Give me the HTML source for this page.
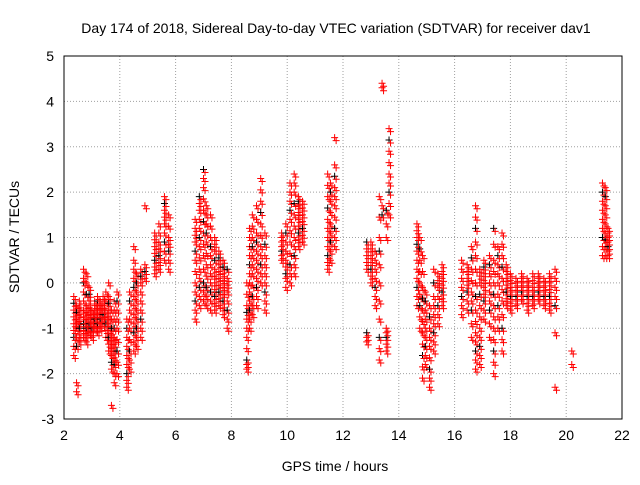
<!DOCTYPE html>
<html><head><meta charset="utf-8"><style>
body{margin:0;background:#fff}
svg text{font-family:"Liberation Sans",sans-serif;font-size:14px;fill:#000}
</style></head><body>
<svg id="chart" width="640" height="480" xmlns="http://www.w3.org/2000/svg">
<rect width="640" height="480" fill="#fff"/>
<text x="336" y="33" text-anchor="middle">Day 174 of 2018, Sidereal Day-to-day VTEC variation (SDTVAR) for receiver dav1</text>
<text x="335" y="471" text-anchor="middle">GPS time / hours</text>
<text transform="translate(19,237) rotate(-90)" text-anchor="middle">SDTVAR / TECUs</text>
<g id="grid"></g><g id="ticks"></g><g id="marks"></g>
<rect x="64" y="56" width="558" height="363" fill="none" stroke="#000" stroke-width="1"/>
</svg>
<script>
const xTicks=[2,4,6,8,10,12,14,16,18,20,22];
const yTicks=[-3,-2,-1,0,1,2,3,4,5];
const streakTimes=[2.35,2.45,2.55,2.7,2.8,2.9,3.0,3.1,3.2,3.3,3.4,3.5,3.6,3.7,3.8,3.9,
4.25,4.35,4.5,4.6,4.75,4.9,5.25,5.4,5.6,5.75,
6.7,6.85,7.0,7.1,7.25,7.4,7.55,7.7,7.85,
8.55,8.65,8.75,8.9,9.05,9.2,9.8,9.95,10.1,10.25,10.4,10.55,
11.45,11.55,11.7,12.85,13.0,13.15,13.3,13.4,13.55,13.65,
14.65,14.75,14.85,14.95,15.1,15.25,15.4,15.55,
16.25,16.45,16.6,16.75,16.9,17.05,17.25,17.4,17.55,17.7,17.85,18.0,18.2,18.4,18.6,18.8,19.0,19.2,19.4,19.6,
20.2,21.3,21.4,21.5];
const streakValues=[
[-1.6,-1.4,-1.2,-1.05,-0.9,-0.75,-0.6,-0.45,-0.3],[-2.4,-2.2,-1.4,-1.2,-1.0,-0.9,-0.8,-0.65,-0.5],[-1.3,-1.15,-1.0,-0.85,-0.7,-0.55,-0.4],[-1.2,-1.05,-0.9,-0.75,-0.6,-0.4,-0.2,0.0,0.1,0.3],[-1.3,-1.15,-1.0,-0.9,-0.8,-0.65,-0.5,-0.25,0.0,0.2],[-1.1,-1.0,-0.9,-0.8,-0.7,-0.55,-0.4,-0.25,-0.1],[-1.2,-1.1,-1.0,-0.9,-0.8,-0.7,-0.6],[-1.0,-0.9,-0.8,-0.7,-0.6,-0.5,-0.4],[-1.1,-1.0,-0.9,-0.8,-0.7,-0.6,-0.5,-0.4,-0.3],[-1.0,-0.9,-0.8,-0.7,-0.6,-0.5,-0.4],[-0.9,-0.8,-0.7,-0.6,-0.5,-0.4,-0.3],[-1.2,-1.05,-0.9,-0.75,-0.6,-0.4,-0.2],[-1.5,-1.35,-1.2,-1.05,-0.9,-0.75,-0.6,-0.45,-0.3,0.0],[-2.7,-1.9,-1.75,-1.6,-1.45,-1.3,-1.15,-1.0,-0.8,-0.6],[-2.2,-2.0,-1.8,-1.65,-1.5,-1.35,-1.2,-1.0,-0.8,-0.6,-0.4],[-2.0,-1.75,-1.5,-1.25,-1.0,-0.8,-0.6,-0.4,-0.2],
[-2.3,-2.15,-2.0,-1.8,-1.6,-1.4,-1.2,-1.0,-0.8],[-1.9,-1.7,-1.5,-1.25,-1.0,-0.8,-0.6,-0.4,-0.2],[-1.5,-1.3,-1.1,-0.9,-0.7,-0.5,-0.3,-0.1,0.1,0.3,0.5,0.8],[-1.4,-1.2,-1.0,-0.8,-0.6,-0.4,-0.2,0.0,0.2],[-1.2,-1.0,-0.8,-0.6,-0.4,-0.2,0.0,0.15,0.3],[1.7,0.4,0.25,0.1],[0.2,0.35,0.5,0.65,0.8,0.95,1.1],[0.3,0.45,0.6,0.75,0.9,1.1,1.3],[0.5,0.7,0.9,1.1,1.3,1.45,1.6,1.75,1.9],[0.3,0.5,0.7,0.85,1.0,1.25,1.5],
[-0.8,-0.6,-0.4,-0.2,0.0,0.25,0.5,0.7,0.9,1.05,1.2,1.4],[-0.5,-0.3,-0.1,0.1,0.3,0.55,0.8,1.0,1.2,1.4,1.6,1.75,1.9],[-0.4,-0.2,0.0,0.3,0.6,0.85,1.1,1.35,1.6,1.85,2.1,2.3,2.5],[-0.5,-0.3,-0.1,0.15,0.4,0.65,0.9,1.1,1.3,1.5,1.7],[-0.6,-0.4,-0.2,0.0,0.2,0.4,0.6,0.8,1.0,1.25,1.5],[-0.6,-0.45,-0.3,-0.15,0.0,0.15,0.3,0.5,0.7,0.85,1.0],[-0.5,-0.35,-0.2,-0.05,0.1,0.25,0.4,0.55,0.7],[-0.7,-0.55,-0.4,-0.25,-0.1,0.05,0.2,0.35,0.5],[-1.0,-0.8,-0.6,-0.4,-0.2,-0.05,0.1,0.3],
[-1.9,-1.8,-1.7,-1.45,-1.2,-1.0,-0.8,-0.65,-0.5,-0.25,0.0],[-1.0,-0.8,-0.6,-0.4,-0.2,0.0,0.2,0.4,0.6,0.8,1.0,1.2],[-0.7,-0.5,-0.3,-0.05,0.2,0.4,0.6,0.8,1.0,1.25,1.5],[-0.5,-0.3,-0.1,0.1,0.3,0.5,0.7,0.9,1.1,1.4,1.7],[0.0,0.2,0.4,0.6,0.8,1.05,1.3,1.55,1.8,2.05,2.3],[-0.6,-0.4,-0.2,0.0,0.2,0.4,0.6,0.85,1.1],[0.5,0.6,0.7,0.8,0.9,1.0,1.1],[-0.1,0.1,0.2,0.35,0.5,0.7,0.9,1.1,1.3],[0.0,0.2,0.4,0.65,0.9,1.15,1.4,1.6,1.8,2.0,2.2],[0.2,0.4,0.6,0.8,1.0,1.25,1.5,1.75,2.0,2.2,2.4],[0.8,0.95,1.1,1.25,1.4,1.55,1.7,1.8,1.9],[0.9,1.05,1.2,1.35,1.5,1.65,1.8],
[0.3,0.45,0.6,0.8,1.0,1.2,1.4,1.65,1.9,2.15,2.4],[0.5,0.7,0.9,1.1,1.3,1.55,1.8,2.0,2.2],[0.8,1.0,1.2,1.45,1.7,1.9,2.1,2.35,2.6,3.2],[-1.3,-1.2,-1.1,0.3,0.45,0.6,0.75,0.9],[0.0,0.15,0.3,0.45,0.6,0.75,0.9],[-0.5,-0.3,-0.1,0.1,0.3,0.5,0.7],[-1.7,-1.45,-1.2,-0.8,-0.4,0.0,0.4,0.7,1.0,1.45,1.9],[4.3,4.4,1.5,1.7],[-1.5,-1.35,-1.2,-1.1,-1.0,1.0,1.3,1.6],[1.5,1.75,2.0,2.2,2.4,2.65,2.9,3.15,3.4],
[-0.5,-0.3,-0.1,0.1,0.3,0.5,0.7,0.85,1.0,1.15,1.3],[-1.0,-0.75,-0.5,-0.25,0.0,0.25,0.5,0.75,1.0],[-2.1,-1.85,-1.6,-1.35,-1.1,-0.85,-0.6,-0.35,-0.1,0.25,0.6],[-1.8,-1.6,-1.4,-1.2,-1.0,-0.8,-0.6,-0.4,-0.2],[-2.3,-2.1,-1.9,-1.65,-1.4,-1.2,-1.0,-0.75,-0.5],[-1.5,-1.3,-1.1,-0.9,-0.7,-0.5,-0.3,0.0,0.3],[-0.9,-0.7,-0.5,-0.3,-0.1,0.05,0.2],[-0.5,-0.35,-0.2,-0.05,0.1,0.25,0.4],
[-0.7,-0.5,-0.3,-0.1,0.1,0.3,0.5],[-0.6,-0.4,-0.2,-0.05,0.1,0.25,0.4],[-1.2,-0.9,-0.6,-0.4,-0.2,0.05,0.3,0.55,0.8],[-1.9,-1.7,-1.5,-1.3,-1.1,-0.85,-0.6,-0.3,0.0,0.3,0.6,0.9,1.2,1.45,1.7],[-1.8,-1.6,-1.4,-1.2,-1.0,-0.75,-0.5,-0.25,0.0,0.15,0.3],[-0.8,-0.6,-0.4,-0.25,-0.1,0.05,0.2,0.35,0.5],[-1.2,-0.9,-0.6,-0.4,-0.2,0.0,0.2,0.4,0.6],[-2.0,-1.75,-1.5,-1.25,-1.0,-0.75,-0.5,-0.25,0.0,0.25,0.5,0.85,1.2],[-1.0,-0.75,-0.5,-0.25,0.0,0.2,0.4,0.6,0.8],[-1.5,-1.25,-1.0,-0.7,-0.4,-0.15,0.1,0.35,0.6,0.85,1.1],[-0.5,-0.35,-0.2,-0.05,0.1,0.25,0.4],[-0.6,-0.45,-0.3,-0.2,-0.1,0.05,0.2],[-0.5,-0.4,-0.3,-0.2,-0.1,0.0,0.1],[-0.4,-0.3,-0.2,-0.1,0.0,0.1,0.2],[-0.6,-0.45,-0.3,-0.2,-0.1,0.0,0.1],[-0.5,-0.4,-0.3,-0.2,-0.1,0.05,0.2],[-0.4,-0.3,-0.2,-0.1,0.0,0.1,0.2],[-0.5,-0.4,-0.3,-0.2,-0.1,0.0,0.1],[-0.6,-0.45,-0.3,-0.15,0.0,0.1,0.2],[-2.3,-1.1,-0.5,-0.3,-0.1,0.1,0.3],
[-1.5,-1.8],[0.6,0.8,1.0,1.2,1.4,1.6,1.8,2.0,2.2],[0.6,0.8,0.95,1.1,1.3,1.5,1.7,1.9,2.1],[0.6,0.7,0.8,0.9,1.0,1.1,1.2]];
const X0=64,X1=622,Y0=419,Y1=56;
const xs=t=>X0+(t-2)/20*(X1-X0);
const ys=v=>Y0-(v+3)/8*(Y0-Y1);
const NS="http://www.w3.org/2000/svg";
const grid=document.getElementById('grid'),ticks=document.getElementById('ticks'),marks=document.getElementById('marks');
function mk(tag,attrs,parent){const e=document.createElementNS(NS,tag);for(const k in attrs)e.setAttribute(k,attrs[k]);parent.appendChild(e);return e;}
xTicks.forEach(t=>{const x=xs(t);
 if(t>2&&t<22){const g=mk('line',{x1:x,x2:x,y1:Y1,y2:Y0,stroke:'#a0a0a0','stroke-dasharray':'1,2'},grid);
 
 }
 const tx=mk('text',{x:x,y:Y0+21,'text-anchor':'middle'},ticks);tx.textContent=t;
 
 });
yTicks.forEach(v=>{const y=ys(v);
 if(v>-3&&v<5){const g=mk('line',{x1:X0,x2:X1,y1:y,y2:y,stroke:'#a0a0a0','stroke-dasharray':'1,2'},grid);
 
 }
 const tx=mk('text',{x:X0-10,y:y+5,'text-anchor':'end'},ticks);tx.textContent=v;
 
 });
streakTimes.forEach((t,i)=>{streakValues[i].forEach((v,j)=>{
 const x=xs(t),y=ys(v);
 const p=mk('path',{d:`M${x-3.5},${y}h7M${x},${y-3.5}v7`,stroke:(j%5==2)?'#000':'#f00','stroke-width':1},marks);
 
 
 const p2=mk('path',{d:`M${x+1.5-3.5},${y+3}h7M${x+1.5},${y-0.5}v7`,stroke:'#f00','stroke-width':1},marks);
 
 });});
</script>
</body></html>
